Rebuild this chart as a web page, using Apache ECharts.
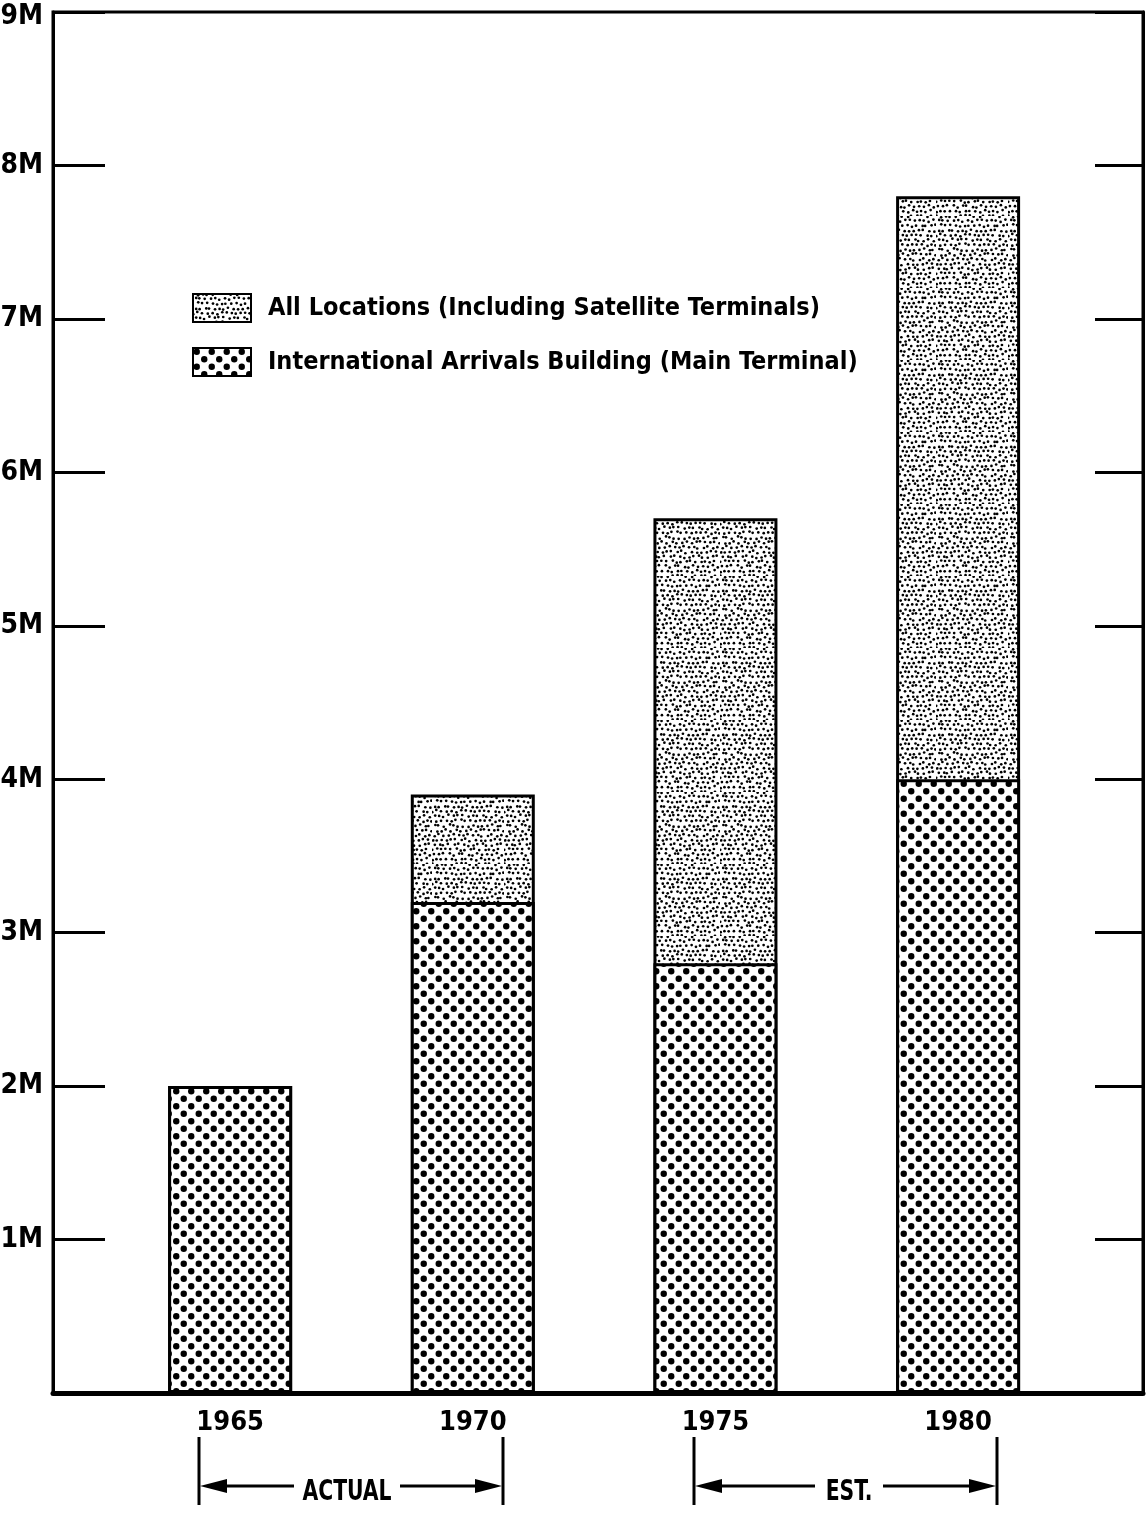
<!DOCTYPE html>
<html>
<head>
<meta charset="utf-8">
<title>International Arrivals - Passenger Volume</title>
<script src="https://cdn.jsdelivr.net/npm/echarts@6/dist/echarts.min.js"></script>
<style>
  html, body { margin: 0; padding: 0; background: #fff; }
  #chart { width: 1146px; height: 1513px; }
</style>
</head>
<body>
<div id="chart"></div>
<script>
// Passenger volume by year (millions)
const years = [1965, 1970, 1975, 1980];
const allLocations = [2.0, 3.9, 5.7, 7.8];   // total incl. satellite terminals
const intlArrivals = [2.0, 3.2, 2.8, 4.0];   // International Arrivals Building only
const yTickLabels = ['', '1M', '2M', '3M', '4M', '5M', '6M', '7M', '8M', '9M'];
const seriesNames = [
  'All Locations (Including Satellite Terminals)',
  'International Arrivals Building (Main Terminal)'
];
const periodLabels = ['ACTUAL', 'EST.'];

const FONT = '"Liberation Sans Narrow", "DejaVu Sans Condensed", "Roboto Condensed", sans-serif';

// Fine stipple texture (deterministic jittered dots)
function makeStipple() {
  const size = 72, step = 4.8;
  const c = document.createElement('canvas');
  c.width = size; c.height = size;
  const g = c.getContext('2d');
  g.fillStyle = '#fff'; g.fillRect(0, 0, size, size);
  g.fillStyle = '#000';
  let s = 12345;
  const rnd = () => { s = (s * 1103515245 + 12345) % 2147483648; return s / 2147483648; };
  for (let y = 0; y < size - 0.1; y += step) {
    for (let x = 0; x < size - 0.1; x += step) {
      const px = x + (rnd() - 0.5) * 2.6 + (Math.round(y / step) % 2 ? step / 2 : 0);
      const py = y + (rnd() - 0.5) * 2.6;
      g.beginPath();
      g.arc(((px % size) + size) % size, ((py % size) + size) % size, 1.35, 0, Math.PI * 2);
      g.fill();
    }
  }
  return c;
}

// Checkerboard dot texture
function makeChecker() {
  const size = 15;
  const c = document.createElement('canvas');
  c.width = size; c.height = size;
  const g = c.getContext('2d');
  g.fillStyle = '#fff'; g.fillRect(0, 0, size, size);
  g.fillStyle = '#000';
  [[3.75, 3.75], [11.25, 11.25]].forEach(([x, y]) => {
    g.beginPath(); g.arc(x, y, 3.2, 0, Math.PI * 2); g.fill();
  });
  return c;
}

const stipple = { image: makeStipple(), repeat: 'repeat' };
const checker = { image: makeChecker(), repeat: 'repeat' };

const chart = echarts.init(document.getElementById('chart'), null, { renderer: 'canvas' });

const labelFont = { fontFamily: FONT, fontWeight: 'bold', fontSize: 28, color: '#000' };

chart.setOption({
  backgroundColor: '#fff',
  animation: false,
  grid: {
    left: 53, right: 3, top: 12, bottom: 120,
    containLabel: false, outerBoundsMode: 'none',
    show: true, borderColor: '#000', borderWidth: 3, backgroundColor: 'transparent'
  },
  legend: {
    orient: 'vertical',
    left: 192, top: 293,
    padding: 0,
    icon: 'rect',
    itemWidth: 58, itemHeight: 28, itemGap: 24,
    data: seriesNames,
    textStyle: {
      fontFamily: FONT, fontWeight: 'bold', fontSize: 25, color: '#000',
      lineHeight: 30, padding: [0, 0, 0, 12]
    },
    selectedMode: false
  },
  xAxis: {
    type: 'value',
    min: 1961.35, max: 1983.81,
    axisLine: { show: true, onZero: false, lineStyle: { color: '#000', width: 5 } },
    axisTick: { show: false },
    splitLine: { show: false },
    axisLabel: {
      customValues: years,
      formatter: v => String(v),
      fontFamily: FONT, fontWeight: 'bold', fontSize: 27, color: '#000', margin: 16
    }
  },
  yAxis: [
    {
      type: 'value', min: 0, max: 9, interval: 1, position: 'left',
      axisLine: { show: true, lineStyle: { color: '#000', width: 3 } },
      axisTick: { show: true, inside: true, length: 52, lineStyle: { color: '#000', width: 3 } },
      splitLine: { show: false },
      axisLabel: {
        // the top label is nudged down so it stays inside the canvas
        formatter: (v) => {
          const i = Math.round(v);
          return i === yTickLabels.length - 1 ? '{top|' + yTickLabels[i] + '}' : yTickLabels[i];
        },
        ...labelFont, margin: 10, verticalAlign: 'middle',
        rich: { top: { ...labelFont, padding: [9, 0, 0, 0] } }
      }
    },
    {
      type: 'value', min: 0, max: 9, interval: 1, position: 'right',
      axisLine: { show: true, lineStyle: { color: '#000', width: 3 } },
      axisTick: { show: true, inside: true, length: 48, lineStyle: { color: '#000', width: 3 } },
      splitLine: { show: false },
      axisLabel: { show: false }
    }
  ],
  series: [
    {
      name: seriesNames[0],
      type: 'bar',
      barWidth: 124,
      barGap: '-100%',
      data: years.map((y, i) => [y, allLocations[i]]),
      itemStyle: { color: stipple, borderColor: '#000', borderWidth: 3 },
      z: 2
    },
    {
      name: seriesNames[1],
      type: 'bar',
      barWidth: 124,
      barGap: '-100%',
      data: years.map((y, i) => [y, intlArrivals[i]]),
      itemStyle: { color: checker, borderColor: '#000', borderWidth: 3 },
      z: 3
    }
  ]
});

// Period brackets under the year labels
function bracket(x1, x2, label, textCenter, textHalf) {
  const yTop = 1437, yBot = 1505, yArrow = 1486, headLen = 28, headHalf = 7;
  const stroke = { stroke: '#000', lineWidth: 3 };
  const tl = textCenter - textHalf - 10, tr = textCenter + textHalf + 10;
  return [
    { type: 'line', shape: { x1: x1, y1: yTop, x2: x1, y2: yBot }, style: stroke },
    { type: 'line', shape: { x1: x2, y1: yTop, x2: x2, y2: yBot }, style: stroke },
    { type: 'line', shape: { x1: x1 + headLen - 4, y1: yArrow, x2: tl, y2: yArrow }, style: stroke },
    { type: 'line', shape: { x1: tr, y1: yArrow, x2: x2 - headLen + 4, y2: yArrow }, style: stroke },
    { type: 'polygon', shape: { points: [[x1 + 1, yArrow], [x1 + headLen, yArrow - headHalf], [x1 + headLen, yArrow + headHalf]] }, style: { fill: '#000' } },
    { type: 'polygon', shape: { points: [[x2 - 1, yArrow], [x2 - headLen, yArrow - headHalf], [x2 - headLen, yArrow + headHalf]] }, style: { fill: '#000' } },
    {
      type: 'text', x: textCenter, y: 1492, scaleX: 0.78,
      style: {
        text: label, fill: '#000', font: 'bold 29px ' + FONT,
        align: 'center', verticalAlign: 'middle'
      }
    }
  ];
}

chart.setOption({
  graphic: [
    ...bracket(199, 503, periodLabels[0], 347, 43),
    ...bracket(694, 997, periodLabels[1], 849, 24)
  ]
});
</script>
</body>
</html>
